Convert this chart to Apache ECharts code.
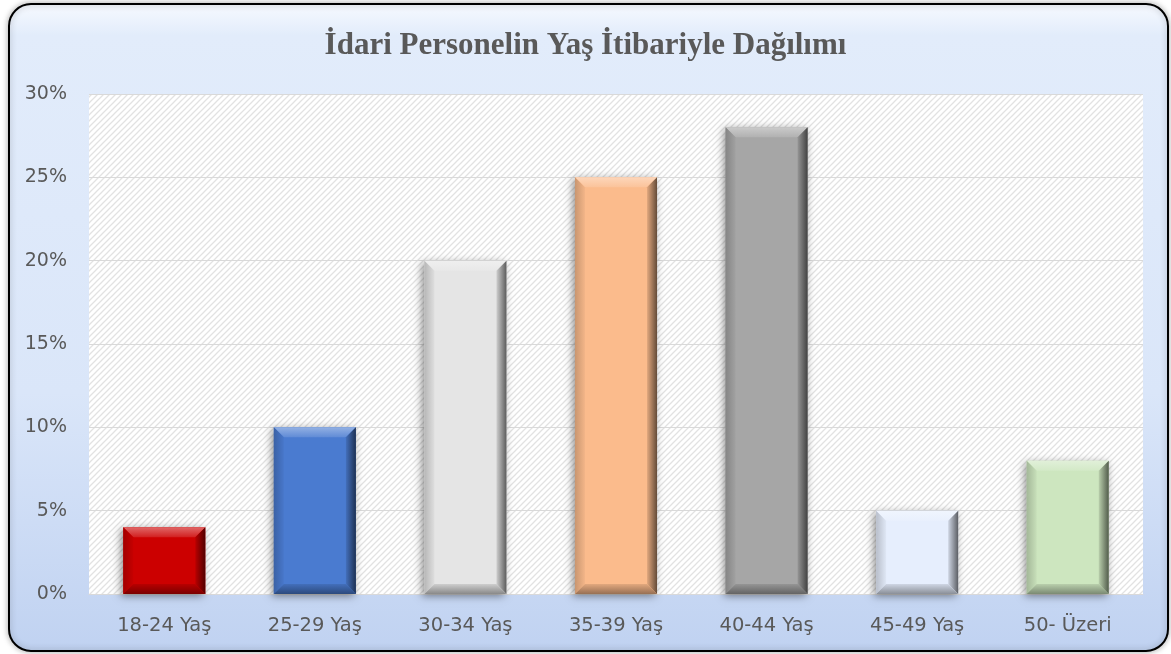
<!DOCTYPE html>
<html>
<head>
<meta charset="utf-8">
<script src="https://cdn.jsdelivr.net/npm/echarts@6/dist/echarts.min.js"></script>
<style>
  html, body { margin: 0; padding: 0; background: #fff; }
  #main { width: 1171px; height: 654px; }
</style>
</head>
<body>
<div id="main"></div>
<script>
// data
var categories = ['18-24 Yaş', '25-29 Yaş', '30-34 Yaş', '35-39 Yaş', '40-44 Yaş', '45-49 Yaş', '50- Üzeri'];
var values = [4, 10, 20, 25, 28, 5, 8];
var yTicks = [0, 5, 10, 15, 20, 25, 30];

// one colour per bar
var barColors = ['#cc0000', '#4a7bd0', '#e5e5e5', '#fbbb8c', '#a6a6a6', '#e6eefd', '#cde6bf'];

//lighten (f>0) or darken (f<0) a hex colour
function shade(hex, f) {
  var n = parseInt(hex.slice(1), 16);
  var rgb = [(n >> 16) & 255, (n >> 8) & 255, n & 255];
  rgb = rgb.map(function (c) {
    return Math.round(f > 0 ? c + (255 - c) * f : c * (1 + f));
  });
  return 'rgb(' + rgb.join(',') + ')';
}

function grad(x2, y2, a, b) {
  return new echarts.graphic.LinearGradient(0, 0, x2, y2, [
    { offset: 0, color: a },
    { offset: 1, color: b }
  ]);
}

//hatched plot background
var pat = document.createElement('canvas');
pat.width = 6;
pat.height = 6;
var ctx = pat.getContext('2d');
ctx.fillStyle = '#ffffff';
ctx.fillRect(0, 0, 6, 6);
ctx.strokeStyle = '#e2e2e2';
ctx.lineWidth = 1.3;
ctx.beginPath();
ctx.moveTo(0, 6); ctx.lineTo(6, 0);
ctx.moveTo(-1, 1); ctx.lineTo(1, -1);
ctx.moveTo(5, 7); ctx.lineTo(7, 5);
ctx.stroke();

var myChart = echarts.init(document.getElementById('main'));

var option = {
  animation: false,
  graphic: [{
    type: 'rect',
    z: -100,
    shape: { x: 9, y: 4, width: 1159, height: 647, r: 22 },
    style: {
      fill: new echarts.graphic.LinearGradient(0, 0, 0, 1, [
        { offset: 0, color: '#f7faff' },
        { offset: 0.05, color: '#e2ecfb' },
        { offset: 0.6, color: '#dae6f9' },
        { offset: 1, color: '#c0d2f1' }
      ]),
      stroke: '#000',
      lineWidth: 2,
      shadowBlur: 6,
      shadowColor: 'rgba(0,0,0,0.3)'
    }
  }],
  title: {
    text: 'İdari Personelin Yaş İtibariyle Dağılımı',
    left: 'center',
    top: 30,
    padding: 0,
    textStyle: {
      fontFamily: 'Liberation Serif',
      fontWeight: 'bold',
      fontSize: 31,
      color: '#595959'
    }
  },
  grid: {
    left: 89,
    right: 28,
    top: 94,
    bottom: 60,
    show: true,
    borderWidth: 0,
    backgroundColor: { image: pat, repeat: 'repeat' }
  },
  xAxis: {
    type: 'category',
    data: categories,
    axisLine: { lineStyle: { color: '#d9d9d9', width: 1 } },
    axisTick: { show: false },
    axisLabel: {
      color: '#595959',
      fontSize: 19.5,
      fontFamily: 'DejaVu Sans',
      margin: 22
    }
  },
  yAxis: {
    type: 'value',
    min: yTicks[0],
    max: yTicks[yTicks.length - 1],
    interval: yTicks[1] - yTicks[0],
    axisLine: { show: false },
    axisTick: { show: false },
    splitLine: { lineStyle: { color: '#d9d9d9', width: 1 } },
    axisLabel: {
      formatter: '{value}%',
      color: '#595959',
      fontSize: 19,
      fontFamily: 'DejaVu Sans',
      margin: 22
    }
  },
  series: [{
    type: 'custom',
    data: values.map(function (v, i) { return [i, v]; }),
    encode: { x: 0, y: 1 },
    renderItem: function (params, api) {
      var top = api.coord([api.value(0), api.value(1)]);
      var base = api.coord([api.value(0), 0]);
      var w = api.size([1, 0])[0] * 0.545;
      var x0 = top[0] - w / 2, x1 = top[0] + w / 2;
      var y0 = top[1], y1 = base[1];
      var b = Math.min(10, (y1 - y0) / 2);
      var c = barColors[params.dataIndex];
      return {
        type: 'group',
        children: [
          {
            type: 'rect',
            shape: { x: x0, y: y0, width: w, height: y1 - y0 },
            style: {
              fill: c,
              shadowBlur: 8,
              shadowOffsetX: -2,
              shadowOffsetY: 2,
              shadowColor: 'rgba(0,0,0,0.45)'
            }
          },
          {
            type: 'polygon',
            shape: { points: [[x0, y0], [x1, y0], [x1 - b, y0 + b], [x0 + b, y0 + b]] },
            style: { fill: grad(0, 1, shade(c, 0.4), shade(c, 0.12)) }
          },
          {
            type: 'polygon',
            shape: { points: [[x0, y0], [x0 + b, y0 + b], [x0 + b, y1 - b], [x0, y1]] },
            style: { fill: grad(1, 0, shade(c, -0.2), shade(c, -0.03)) }
          },
          {
            type: 'polygon',
            shape: { points: [[x1, y0], [x1, y1], [x1 - b, y1 - b], [x1 - b, y0 + b]] },
            style: { fill: grad(1, 0, shade(c, -0.1), shade(c, -0.6)) }
          },
          {
            type: 'polygon',
            shape: { points: [[x0, y1], [x0 + b, y1 - b], [x1 - b, y1 - b], [x1, y1]] },
            style: { fill: grad(0, 1, shade(c, -0.1), shade(c, -0.4)) }
          }
        ]
      };
    }
  }]
};

myChart.setOption(option);
</script>
</body>
</html>
